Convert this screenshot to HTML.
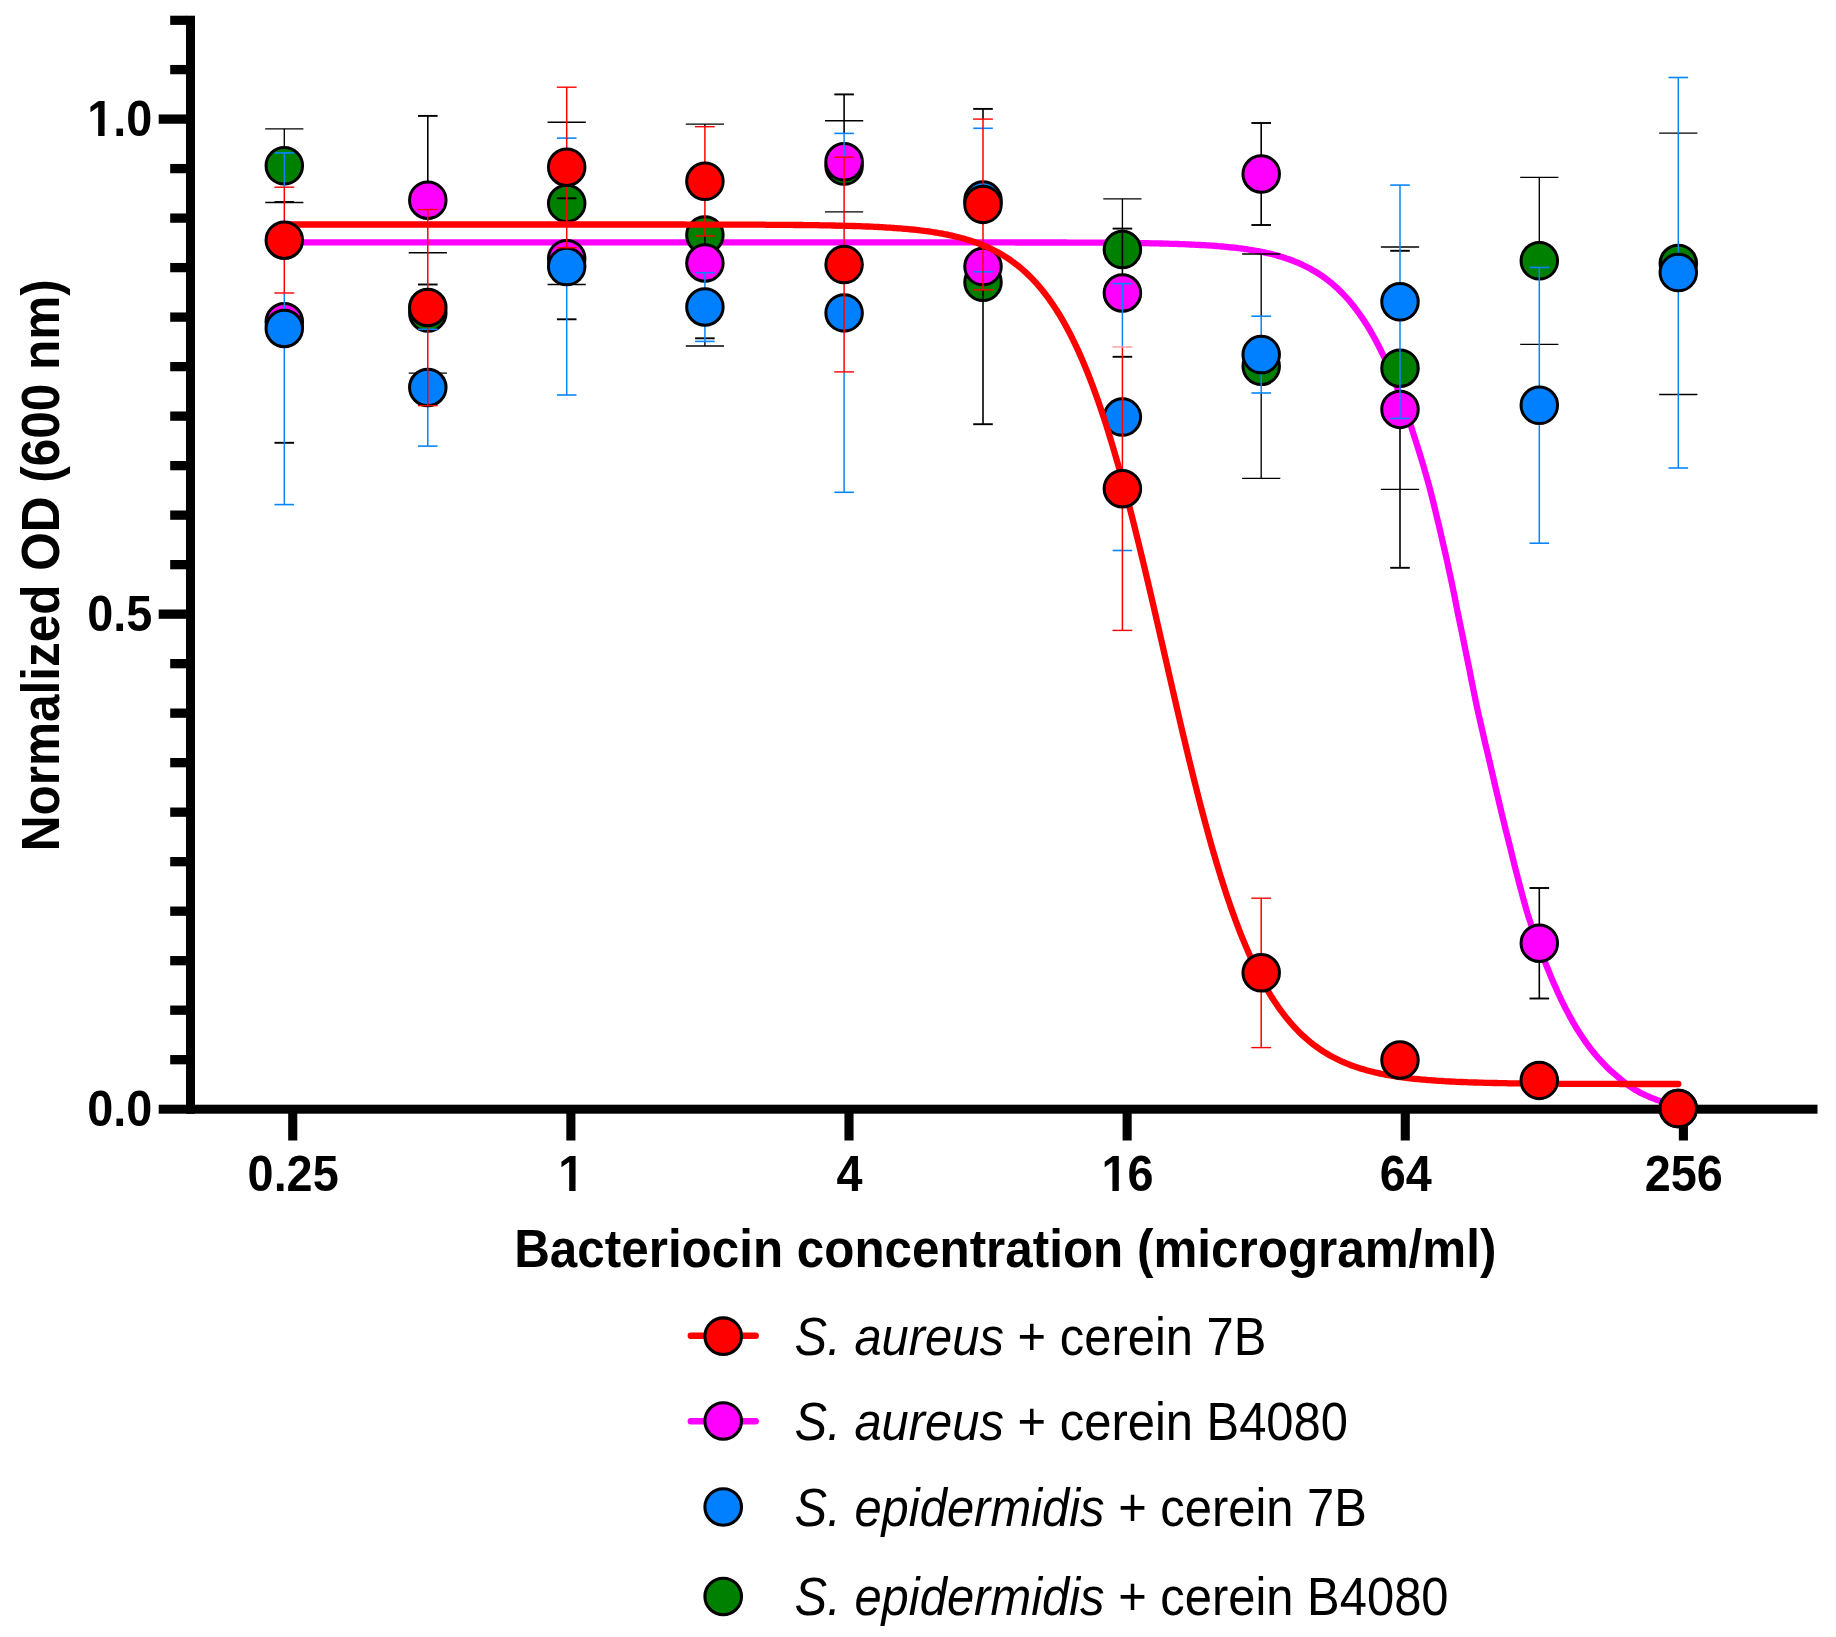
<!DOCTYPE html>
<html lang="en"><head><meta charset="utf-8"><title>Bacteriocin dose response</title>
<style>html,body{margin:0;padding:0;background:#fff}svg{display:block}text{font-family:"Liberation Sans",Arial,Helvetica,sans-serif;fill:#000}</style></head><body>
<svg width="1836" height="1637" viewBox="0 0 1836 1637">
<rect width="1836" height="1637" fill="#fff"/>
<g id="axes" fill="#000">
<rect x="186" y="15.7" width="9" height="1098.1"/>
<rect x="158.7" y="1104.7" width="1658.8" height="9"/>
<rect x="170.2" y="1055.04" width="16.3" height="9.3"/>
<rect x="170.2" y="1005.54" width="16.3" height="9.3"/>
<rect x="170.2" y="956.04" width="16.3" height="9.3"/>
<rect x="170.2" y="906.53" width="16.3" height="9.3"/>
<rect x="170.2" y="857.03" width="16.3" height="9.3"/>
<rect x="170.2" y="807.52" width="16.3" height="9.3"/>
<rect x="170.2" y="758.01" width="16.3" height="9.3"/>
<rect x="170.2" y="708.51" width="16.3" height="9.3"/>
<rect x="170.2" y="659.00" width="16.3" height="9.3"/>
<rect x="158.7" y="609.50" width="27.8" height="9.3"/>
<rect x="170.2" y="560.00" width="16.3" height="9.3"/>
<rect x="170.2" y="510.49" width="16.3" height="9.3"/>
<rect x="170.2" y="460.99" width="16.3" height="9.3"/>
<rect x="170.2" y="411.48" width="16.3" height="9.3"/>
<rect x="170.2" y="361.98" width="16.3" height="9.3"/>
<rect x="170.2" y="312.47" width="16.3" height="9.3"/>
<rect x="170.2" y="262.96" width="16.3" height="9.3"/>
<rect x="170.2" y="213.46" width="16.3" height="9.3"/>
<rect x="170.2" y="163.95" width="16.3" height="9.3"/>
<rect x="158.7" y="114.45" width="27.8" height="9.3"/>
<rect x="170.2" y="64.95" width="16.3" height="9.3"/>
<rect x="170.2" y="15.7" width="16.3" height="9.2"/>
<rect x="288.19" y="1113" width="9.1" height="27.5"/>
<rect x="566.32" y="1113" width="9.1" height="27.5"/>
<rect x="844.45" y="1113" width="9.1" height="27.5"/>
<rect x="1122.58" y="1113" width="9.1" height="27.5"/>
<rect x="1400.71" y="1113" width="9.1" height="27.5"/>
<rect x="1678.84" y="1113" width="9.1" height="27.5"/>
</g>
<path id="fitB" d="M284.3 242.4 L286.3 242.4 L288.3 242.4 L290.3 242.4 L292.3 242.4 L294.3 242.4 L296.3 242.4 L298.3 242.4 L300.3 242.4 L302.3 242.4 L304.3 242.4 L306.3 242.4 L308.3 242.4 L310.3 242.4 L312.3 242.4 L314.3 242.4 L316.3 242.4 L318.3 242.4 L320.3 242.4 L322.3 242.4 L324.3 242.4 L326.3 242.4 L328.3 242.4 L330.3 242.4 L332.3 242.4 L334.3 242.4 L336.3 242.4 L338.3 242.4 L340.3 242.4 L342.3 242.4 L344.3 242.4 L346.3 242.4 L348.3 242.4 L350.3 242.4 L352.3 242.4 L354.3 242.4 L356.3 242.4 L358.3 242.4 L360.3 242.4 L362.3 242.4 L364.3 242.4 L366.3 242.4 L368.3 242.4 L370.3 242.4 L372.3 242.4 L374.3 242.4 L376.3 242.4 L378.3 242.4 L380.3 242.4 L382.3 242.4 L384.3 242.4 L386.3 242.4 L388.3 242.4 L390.3 242.4 L392.3 242.4 L394.3 242.4 L396.3 242.4 L398.3 242.4 L400.3 242.4 L402.3 242.4 L404.3 242.4 L406.3 242.4 L408.3 242.4 L410.3 242.4 L412.3 242.4 L414.3 242.4 L416.3 242.4 L418.3 242.4 L420.3 242.4 L422.3 242.4 L424.3 242.4 L426.3 242.4 L428.3 242.4 L430.3 242.4 L432.3 242.4 L434.3 242.4 L436.3 242.4 L438.3 242.4 L440.3 242.4 L442.3 242.4 L444.3 242.4 L446.3 242.4 L448.3 242.4 L450.3 242.4 L452.3 242.4 L454.3 242.4 L456.3 242.4 L458.3 242.4 L460.3 242.4 L462.3 242.4 L464.3 242.4 L466.3 242.4 L468.3 242.4 L470.3 242.4 L472.3 242.4 L474.3 242.4 L476.3 242.4 L478.3 242.4 L480.3 242.4 L482.3 242.4 L484.3 242.4 L486.3 242.4 L488.3 242.4 L490.3 242.4 L492.3 242.4 L494.3 242.4 L496.3 242.4 L498.3 242.4 L500.3 242.4 L502.3 242.4 L504.3 242.4 L506.3 242.4 L508.3 242.4 L510.3 242.4 L512.3 242.4 L514.3 242.4 L516.3 242.4 L518.3 242.4 L520.3 242.4 L522.3 242.4 L524.3 242.4 L526.3 242.4 L528.3 242.4 L530.3 242.4 L532.3 242.4 L534.3 242.4 L536.3 242.4 L538.3 242.4 L540.3 242.4 L542.3 242.4 L544.3 242.4 L546.3 242.4 L548.3 242.4 L550.3 242.4 L552.3 242.4 L554.3 242.4 L556.3 242.4 L558.3 242.4 L560.3 242.4 L562.3 242.4 L564.3 242.4 L566.3 242.4 L568.3 242.4 L570.3 242.4 L572.3 242.4 L574.3 242.4 L576.3 242.4 L578.3 242.4 L580.3 242.4 L582.3 242.4 L584.3 242.4 L586.3 242.4 L588.3 242.4 L590.3 242.4 L592.3 242.4 L594.3 242.4 L596.3 242.4 L598.3 242.4 L600.3 242.4 L602.3 242.4 L604.3 242.4 L606.3 242.4 L608.3 242.4 L610.3 242.4 L612.3 242.4 L614.3 242.4 L616.3 242.4 L618.3 242.4 L620.3 242.4 L622.3 242.4 L624.3 242.4 L626.3 242.4 L628.3 242.4 L630.3 242.4 L632.3 242.4 L634.3 242.4 L636.3 242.4 L638.3 242.4 L640.3 242.4 L642.3 242.4 L644.3 242.4 L646.3 242.4 L648.3 242.4 L650.3 242.4 L652.3 242.4 L654.3 242.4 L656.3 242.4 L658.3 242.4 L660.3 242.4 L662.3 242.4 L664.3 242.4 L666.3 242.4 L668.3 242.4 L670.3 242.4 L672.3 242.4 L674.3 242.4 L676.3 242.4 L678.3 242.4 L680.3 242.4 L682.3 242.4 L684.3 242.4 L686.3 242.4 L688.3 242.4 L690.3 242.4 L692.3 242.4 L694.3 242.4 L696.3 242.4 L698.3 242.4 L700.3 242.4 L702.3 242.4 L704.3 242.4 L706.3 242.4 L708.3 242.4 L710.3 242.4 L712.3 242.4 L714.3 242.4 L716.3 242.4 L718.3 242.4 L720.3 242.4 L722.3 242.4 L724.3 242.4 L726.3 242.4 L728.3 242.4 L730.3 242.4 L732.3 242.4 L734.3 242.4 L736.3 242.4 L738.3 242.4 L740.3 242.4 L742.3 242.4 L744.3 242.4 L746.3 242.4 L748.3 242.4 L750.3 242.4 L752.3 242.4 L754.3 242.4 L756.3 242.4 L758.3 242.4 L760.3 242.4 L762.3 242.4 L764.3 242.4 L766.3 242.4 L768.3 242.4 L770.3 242.4 L772.3 242.4 L774.3 242.4 L776.3 242.4 L778.3 242.4 L780.3 242.4 L782.3 242.4 L784.3 242.4 L786.3 242.4 L788.3 242.4 L790.3 242.4 L792.3 242.4 L794.3 242.4 L796.3 242.4 L798.3 242.4 L800.3 242.4 L802.3 242.4 L804.3 242.4 L806.3 242.4 L808.3 242.4 L810.3 242.4 L812.3 242.4 L814.3 242.4 L816.3 242.4 L818.3 242.4 L820.3 242.4 L822.3 242.4 L824.3 242.4 L826.3 242.4 L828.3 242.4 L830.3 242.4 L832.3 242.4 L834.3 242.4 L836.3 242.4 L838.3 242.4 L840.3 242.4 L842.3 242.4 L844.3 242.4 L846.3 242.4 L848.3 242.4 L850.3 242.4 L852.3 242.4 L854.3 242.4 L856.3 242.4 L858.3 242.4 L860.3 242.4 L862.3 242.4 L864.3 242.4 L866.3 242.4 L868.3 242.4 L870.3 242.4 L872.3 242.4 L874.3 242.4 L876.3 242.4 L878.3 242.4 L880.3 242.4 L882.3 242.4 L884.3 242.4 L886.3 242.4 L888.3 242.4 L890.3 242.4 L892.3 242.4 L894.3 242.4 L896.3 242.4 L898.3 242.4 L900.3 242.4 L902.3 242.4 L904.3 242.4 L906.3 242.4 L908.3 242.4 L910.3 242.4 L912.3 242.4 L914.3 242.4 L916.3 242.4 L918.3 242.4 L920.3 242.4 L922.3 242.4 L924.3 242.4 L926.3 242.4 L928.3 242.4 L930.3 242.4 L932.3 242.4 L934.3 242.4 L936.3 242.4 L938.3 242.4 L940.3 242.4 L942.3 242.4 L944.3 242.4 L946.3 242.4 L948.3 242.4 L950.3 242.4 L952.3 242.4 L954.3 242.4 L956.3 242.4 L958.3 242.4 L960.3 242.4 L962.3 242.4 L964.3 242.4 L966.3 242.4 L968.3 242.4 L970.3 242.4 L972.3 242.4 L974.3 242.4 L976.3 242.4 L978.3 242.4 L980.3 242.4 L982.3 242.4 L984.3 242.4 L986.3 242.4 L988.3 242.4 L990.3 242.4 L992.3 242.4 L994.3 242.4 L996.3 242.4 L998.3 242.4 L1000.3 242.4 L1002.3 242.4 L1004.3 242.4 L1006.3 242.4 L1008.3 242.4 L1010.3 242.4 L1012.3 242.4 L1014.3 242.4 L1016.3 242.5 L1018.3 242.5 L1020.3 242.5 L1022.3 242.5 L1024.3 242.5 L1026.3 242.5 L1028.3 242.5 L1030.3 242.5 L1032.3 242.5 L1034.3 242.5 L1036.3 242.5 L1038.3 242.5 L1040.3 242.5 L1042.3 242.5 L1044.3 242.5 L1046.3 242.5 L1048.3 242.5 L1050.3 242.5 L1052.3 242.5 L1054.3 242.5 L1056.3 242.5 L1058.3 242.5 L1060.3 242.5 L1062.3 242.5 L1064.3 242.5 L1066.3 242.5 L1068.3 242.6 L1070.3 242.6 L1072.3 242.6 L1074.3 242.6 L1076.3 242.6 L1078.3 242.6 L1080.3 242.6 L1082.3 242.6 L1084.3 242.6 L1086.3 242.6 L1088.3 242.6 L1090.3 242.6 L1092.3 242.7 L1094.3 242.7 L1096.3 242.7 L1098.3 242.7 L1100.3 242.7 L1102.3 242.7 L1104.3 242.7 L1106.3 242.7 L1108.3 242.8 L1110.3 242.8 L1112.3 242.8 L1114.3 242.8 L1116.3 242.8 L1118.3 242.8 L1120.3 242.9 L1122.3 242.9 L1124.3 242.9 L1126.3 242.9 L1128.3 243.0 L1130.3 243.0 L1132.3 243.0 L1134.3 243.0 L1136.3 243.1 L1138.3 243.1 L1140.3 243.1 L1142.3 243.1 L1144.3 243.2 L1146.3 243.2 L1148.3 243.2 L1150.3 243.3 L1152.3 243.3 L1154.3 243.4 L1156.3 243.4 L1158.3 243.4 L1160.3 243.5 L1162.3 243.5 L1164.3 243.6 L1166.3 243.6 L1168.3 243.7 L1170.3 243.8 L1172.3 243.8 L1174.3 243.9 L1176.3 243.9 L1178.3 244.0 L1180.3 244.1 L1182.3 244.1 L1184.3 244.2 L1186.3 244.3 L1188.3 244.4 L1190.3 244.5 L1192.3 244.6 L1194.3 244.7 L1196.3 244.8 L1198.3 244.9 L1200.3 245.0 L1202.3 245.1 L1204.3 245.2 L1206.3 245.3 L1208.3 245.4 L1210.3 245.6 L1212.3 245.7 L1214.3 245.9 L1216.3 246.0 L1218.3 246.2 L1220.3 246.3 L1222.3 246.5 L1224.3 246.7 L1226.3 246.9 L1228.3 247.1 L1230.3 247.3 L1232.3 247.5 L1234.3 247.7 L1236.3 247.9 L1238.3 248.2 L1240.3 248.4 L1242.3 248.7 L1244.3 249.0 L1246.3 249.2 L1248.3 249.5 L1250.3 249.9 L1252.3 250.2 L1254.3 250.5 L1256.3 250.9 L1258.3 251.2 L1260.3 251.6 L1262.3 252.0 L1264.3 252.4 L1266.3 252.9 L1268.3 253.3 L1270.3 253.8 L1272.3 254.3 L1274.3 254.8 L1276.3 255.3 L1278.3 255.9 L1280.3 256.5 L1282.3 257.1 L1284.3 257.7 L1286.3 258.4 L1288.3 259.0 L1290.3 259.8 L1292.3 260.5 L1294.3 261.3 L1296.3 262.1 L1298.3 262.9 L1300.3 263.8 L1302.3 264.7 L1304.3 265.7 L1306.3 266.7 L1308.3 267.7 L1310.3 268.8 L1312.3 269.9 L1314.3 271.0 L1316.3 272.2 L1318.3 273.5 L1320.3 274.8 L1322.3 276.2 L1324.3 277.6 L1326.3 279.1 L1328.3 280.6 L1330.3 282.2 L1332.3 283.9 L1334.3 285.6 L1336.3 287.4 L1338.3 289.2 L1340.3 291.2 L1342.3 293.2 L1344.3 295.3 L1346.3 297.5 L1348.3 299.7 L1350.3 302.0 L1352.3 304.5 L1354.3 307.0 L1356.3 309.6 L1358.3 312.3 L1360.3 315.1 L1362.3 318.0 L1364.3 321.0 L1366.3 324.1 L1368.3 327.4 L1370.3 330.7 L1372.3 334.2 L1374.3 337.7 L1376.3 341.4 L1378.3 345.3 L1380.3 349.2 L1382.3 353.3 L1384.3 357.5 L1386.3 361.9 L1388.3 366.3 L1390.3 371.0 L1392.3 375.7 L1394.3 380.6 L1396.3 385.7 L1398.4 390.9 L1400.4 396.3 L1402.5 401.8 L1404.5 407.4 L1406.6 413.2 L1408.6 419.2 L1410.7 425.3 L1412.7 431.6 L1414.8 438.0 L1416.9 444.6 L1419.0 451.3 L1421.1 458.2 L1423.2 465.2 L1425.3 472.4 L1427.4 479.7 L1429.5 487.2 L1431.4 494.8 L1433.4 502.6 L1435.3 510.4 L1437.2 518.5 L1439.2 526.6 L1441.1 534.9 L1443.0 543.3 L1445.0 551.8 L1446.9 560.4 L1448.8 569.1 L1450.7 577.9 L1452.6 586.8 L1454.4 595.7 L1456.2 604.8 L1458.0 613.9 L1459.9 623.0 L1461.8 632.2 L1463.7 641.5 L1465.6 650.8 L1467.5 660.1 L1469.4 669.4 L1471.2 678.8 L1473.1 688.1 L1475.0 697.5 L1476.9 706.8 L1479.0 716.1 L1481.1 725.3 L1483.2 734.5 L1485.3 743.7 L1487.5 752.8 L1489.6 761.8 L1491.7 770.8 L1493.8 779.7 L1495.8 788.5 L1497.9 797.2 L1499.9 805.8 L1501.9 814.3 L1504.0 822.7 L1506.0 830.9 L1508.1 839.1 L1510.1 847.1 L1512.0 855.0 L1513.9 862.7 L1515.8 870.3 L1517.8 877.8 L1519.7 885.1 L1521.6 892.3 L1523.5 899.3 L1525.4 906.2 L1527.3 912.9 L1529.4 919.5 L1531.6 925.9 L1533.8 932.2 L1536.0 938.3 L1538.2 944.2 L1540.3 950.0 L1542.5 955.7 L1544.7 961.2 L1546.8 966.5 L1549.0 971.7 L1551.0 976.8 L1553.1 981.7 L1555.2 986.4 L1557.2 991.0 L1559.3 995.5 L1561.3 999.9 L1563.4 1004.1 L1565.4 1008.2 L1567.5 1012.1 L1569.5 1015.9 L1571.6 1019.6 L1573.6 1023.2 L1575.6 1026.6 L1577.7 1030.0 L1579.7 1033.2 L1581.8 1036.3 L1583.8 1039.3 L1585.8 1042.2 L1587.8 1045.0 L1589.9 1047.7 L1591.9 1050.3 L1593.9 1052.8 L1595.9 1055.3 L1597.9 1057.6 L1600.0 1059.8 L1602.0 1062.0 L1604.0 1064.1 L1606.0 1066.2 L1608.0 1068.2 L1610.0 1070.1 L1612.1 1072.0 L1614.1 1073.7 L1616.1 1075.4 L1618.1 1077.1 L1619.9 1078.7 L1621.7 1080.2 L1623.5 1081.7 L1625.3 1083.1 L1627.2 1084.4 L1629.0 1085.8 L1630.8 1087.0 L1632.7 1088.2 L1634.5 1089.4 L1636.4 1090.5 L1638.3 1091.6 L1640.3 1092.7 L1642.3 1093.7 L1644.3 1094.6 L1646.3 1095.5 L1648.3 1096.4 L1650.3 1097.3 L1652.3 1098.1 L1654.3 1098.9 L1656.3 1099.7 L1658.3 1100.4 L1660.3 1101.1 L1662.3 1101.8 L1664.3 1102.4 L1666.3 1102.9 L1668.3 1103.5 L1670.3 1104.0 L1672.3 1104.5 L1674.3 1105.0 L1676.3 1105.5 L1678.3 1106.0" fill="none" stroke="#ff00ff" stroke-width="6.3" stroke-linecap="round" stroke-linejoin="round"/>
<g id="sepi_b4080">
<path d="M284.3 128.8 V152.9" stroke="#000" stroke-width="1.35" fill="none"/>
<path d="M265.2 128.8 H303.4" stroke="#000" stroke-width="1.35" fill="none"/>
<path d="M265.2 202.5 H303.4" stroke="#000" stroke-width="1.35" fill="none"/>
<path d="M408.7 252.7 H446.9" stroke="#000" stroke-width="1.35" fill="none"/>
<path d="M408.7 373.1 H446.9" stroke="#000" stroke-width="1.35" fill="none"/>
<path d="M547.6 122.2 H585.8" stroke="#000" stroke-width="1.35" fill="none"/>
<path d="M547.6 284.5 H585.8" stroke="#000" stroke-width="1.35" fill="none"/>
<path d="M704.9 124.1 V126.7" stroke="#000" stroke-width="1.35" fill="none"/>
<path d="M704.9 341.4 V346.0" stroke="#000" stroke-width="1.35" fill="none"/>
<path d="M685.8 124.1 H724.0" stroke="#000" stroke-width="1.35" fill="none"/>
<path d="M685.8 346.0 H724.0" stroke="#000" stroke-width="1.35" fill="none"/>
<path d="M825.0 120.7 H863.2" stroke="#000" stroke-width="1.35" fill="none"/>
<path d="M825.0 211.8 H863.2" stroke="#000" stroke-width="1.35" fill="none"/>
<path d="M1122.4 198.9 V228.6" stroke="#000" stroke-width="1.35" fill="none"/>
<path d="M1103.3 198.9 H1141.5" stroke="#000" stroke-width="1.35" fill="none"/>
<path d="M1103.3 297.0 H1141.5" stroke="#000" stroke-width="1.35" fill="none"/>
<path d="M1261.2 254.0 V316.2" stroke="#000" stroke-width="1.35" fill="none"/>
<path d="M1261.2 393.0 V478.4" stroke="#000" stroke-width="1.35" fill="none"/>
<path d="M1242.1 254.0 H1280.3" stroke="#000" stroke-width="1.35" fill="none"/>
<path d="M1242.1 478.4 H1280.3" stroke="#000" stroke-width="1.35" fill="none"/>
<path d="M1380.9 247.0 H1419.1" stroke="#000" stroke-width="1.35" fill="none"/>
<path d="M1380.9 489.3 H1419.1" stroke="#000" stroke-width="1.35" fill="none"/>
<path d="M1539.3 177.4 V267.5" stroke="#000" stroke-width="1.35" fill="none"/>
<path d="M1520.2 177.4 H1558.4" stroke="#000" stroke-width="1.35" fill="none"/>
<path d="M1520.2 344.4 H1558.4" stroke="#000" stroke-width="1.35" fill="none"/>
<path d="M1659.2 133.1 H1697.4" stroke="#000" stroke-width="1.35" fill="none"/>
<path d="M1659.2 394.5 H1697.4" stroke="#000" stroke-width="1.35" fill="none"/>
<circle cx="284.3" cy="165.8" r="18.25" fill="#008000" stroke="#000" stroke-width="3.0"/>
<circle cx="427.8" cy="313.1" r="18.25" fill="#008000" stroke="#000" stroke-width="3.0"/>
<circle cx="566.7" cy="203.4" r="18.25" fill="#008000" stroke="#000" stroke-width="3.0"/>
<circle cx="704.9" cy="235.1" r="18.25" fill="#008000" stroke="#000" stroke-width="3.0"/>
<circle cx="844.1" cy="166.1" r="18.25" fill="#008000" stroke="#000" stroke-width="3.0"/>
<circle cx="983.0" cy="282.3" r="18.25" fill="#008000" stroke="#000" stroke-width="3.0"/>
<circle cx="1122.4" cy="249.6" r="18.25" fill="#008000" stroke="#000" stroke-width="3.0"/>
<circle cx="1261.2" cy="366.3" r="18.25" fill="#008000" stroke="#000" stroke-width="3.0"/>
<circle cx="1400.0" cy="368.2" r="18.25" fill="#008000" stroke="#000" stroke-width="3.0"/>
<circle cx="1539.3" cy="260.8" r="18.25" fill="#008000" stroke="#000" stroke-width="3.0"/>
<circle cx="1678.3" cy="263.5" r="18.25" fill="#008000" stroke="#000" stroke-width="3.0"/>
</g>
<g id="saur_b4080">
<path d="M274.5 202.0 H294.1" stroke="#000" stroke-width="1.90" fill="none"/>
<path d="M274.5 442.8 H294.1" stroke="#000" stroke-width="1.90" fill="none"/>
<path d="M427.8 115.9 V209.6" stroke="#000" stroke-width="1.60" fill="none"/>
<path d="M418.0 115.9 H437.6" stroke="#000" stroke-width="1.90" fill="none"/>
<path d="M418.0 284.5 H437.6" stroke="#000" stroke-width="1.90" fill="none"/>
<path d="M556.9 198.3 H576.5" stroke="#000" stroke-width="1.90" fill="none"/>
<path d="M556.9 319.3 H576.5" stroke="#000" stroke-width="1.90" fill="none"/>
<path d="M704.9 236.0 V272.7" stroke="#000" stroke-width="1.60" fill="none"/>
<path d="M695.1 187.6 H714.7" stroke="#000" stroke-width="1.90" fill="none"/>
<path d="M695.1 338.3 H714.7" stroke="#000" stroke-width="1.90" fill="none"/>
<path d="M844.1 94.4 V133.4" stroke="#000" stroke-width="1.60" fill="none"/>
<path d="M834.3 94.4 H853.9" stroke="#000" stroke-width="1.90" fill="none"/>
<path d="M834.3 227.4 H853.9" stroke="#000" stroke-width="1.90" fill="none"/>
<path d="M983.0 108.9 V119.1" stroke="#000" stroke-width="1.60" fill="none"/>
<path d="M983.0 289.9 V424.2" stroke="#000" stroke-width="1.60" fill="none"/>
<path d="M973.2 108.9 H992.8" stroke="#000" stroke-width="1.90" fill="none"/>
<path d="M973.2 424.2 H992.8" stroke="#000" stroke-width="1.90" fill="none"/>
<path d="M1122.4 228.6 V283.6" stroke="#000" stroke-width="1.60" fill="none"/>
<path d="M1112.6 228.6 H1132.2" stroke="#000" stroke-width="1.90" fill="none"/>
<path d="M1112.6 356.8 H1132.2" stroke="#000" stroke-width="1.90" fill="none"/>
<path d="M1261.2 123.0 V225.0" stroke="#000" stroke-width="1.60" fill="none"/>
<path d="M1251.4 123.0 H1271.0" stroke="#000" stroke-width="1.90" fill="none"/>
<path d="M1251.4 225.0 H1271.0" stroke="#000" stroke-width="1.90" fill="none"/>
<path d="M1400.0 418.4 V567.8" stroke="#000" stroke-width="1.60" fill="none"/>
<path d="M1390.2 250.8 H1409.8" stroke="#000" stroke-width="1.90" fill="none"/>
<path d="M1390.2 567.8 H1409.8" stroke="#000" stroke-width="1.90" fill="none"/>
<path d="M1539.3 888.0 V998.5" stroke="#000" stroke-width="1.60" fill="none"/>
<path d="M1529.5 888.0 H1549.1" stroke="#000" stroke-width="1.90" fill="none"/>
<path d="M1529.5 998.5 H1549.1" stroke="#000" stroke-width="1.90" fill="none"/>
<circle cx="284.3" cy="321.8" r="18.25" fill="#ff00ff" stroke="#000" stroke-width="3.0"/>
<circle cx="427.8" cy="200.2" r="18.25" fill="#ff00ff" stroke="#000" stroke-width="3.0"/>
<circle cx="566.7" cy="258.7" r="18.25" fill="#ff00ff" stroke="#000" stroke-width="3.0"/>
<circle cx="704.9" cy="263.0" r="18.25" fill="#ff00ff" stroke="#000" stroke-width="3.0"/>
<circle cx="844.1" cy="161.8" r="18.25" fill="#ff00ff" stroke="#000" stroke-width="3.0"/>
<circle cx="983.0" cy="266.6" r="18.25" fill="#ff00ff" stroke="#000" stroke-width="3.0"/>
<circle cx="1122.4" cy="293.0" r="18.25" fill="#ff00ff" stroke="#000" stroke-width="3.0"/>
<circle cx="1261.2" cy="174.0" r="18.25" fill="#ff00ff" stroke="#000" stroke-width="3.0"/>
<circle cx="1400.0" cy="409.4" r="18.25" fill="#ff00ff" stroke="#000" stroke-width="3.0"/>
<circle cx="1539.3" cy="943.2" r="18.25" fill="#ff00ff" stroke="#000" stroke-width="3.0"/>
<circle cx="1678.3" cy="1108.6" r="18.25" fill="#ff00ff" stroke="#000" stroke-width="3.0"/>
</g>
<g id="sepi_7b">
<path d="M284.3 152.9 V187.2" stroke="#0686fa" stroke-width="1.50" fill="none"/>
<path d="M284.3 293.0 V504.6" stroke="#0686fa" stroke-width="1.50" fill="none"/>
<path d="M274.5 152.9 H294.1" stroke="#0686fa" stroke-width="1.60" fill="none"/>
<path d="M274.5 504.6 H294.1" stroke="#0686fa" stroke-width="1.60" fill="none"/>
<path d="M427.8 405.6 V446.1" stroke="#0686fa" stroke-width="1.50" fill="none"/>
<path d="M418.0 329.3 H437.6" stroke="#0686fa" stroke-width="1.60" fill="none"/>
<path d="M418.0 446.1 H437.6" stroke="#0686fa" stroke-width="1.60" fill="none"/>
<path d="M566.7 247.7 V395.0" stroke="#0686fa" stroke-width="1.50" fill="none"/>
<path d="M556.9 138.1 H576.5" stroke="#0686fa" stroke-width="1.60" fill="none"/>
<path d="M556.9 395.0 H576.5" stroke="#0686fa" stroke-width="1.60" fill="none"/>
<path d="M704.9 272.7 V341.4" stroke="#0686fa" stroke-width="1.50" fill="none"/>
<path d="M695.1 272.7 H714.7" stroke="#0686fa" stroke-width="1.60" fill="none"/>
<path d="M695.1 341.4 H714.7" stroke="#0686fa" stroke-width="1.60" fill="none"/>
<path d="M844.1 133.4 V157.2" stroke="#0686fa" stroke-width="1.50" fill="none"/>
<path d="M844.1 371.9 V492.3" stroke="#0686fa" stroke-width="1.50" fill="none"/>
<path d="M834.3 133.4 H853.9" stroke="#0686fa" stroke-width="1.60" fill="none"/>
<path d="M834.3 492.3 H853.9" stroke="#0686fa" stroke-width="1.60" fill="none"/>
<path d="M973.2 128.3 H992.8" stroke="#0686fa" stroke-width="1.60" fill="none"/>
<path d="M973.2 271.8 H992.8" stroke="#0686fa" stroke-width="1.60" fill="none"/>
<path d="M1122.4 283.6 V347.0" stroke="#0686fa" stroke-width="1.50" fill="none"/>
<path d="M1112.6 283.6 H1132.2" stroke="#0686fa" stroke-width="1.60" fill="none"/>
<path d="M1112.6 550.5 H1132.2" stroke="#0686fa" stroke-width="1.60" fill="none"/>
<path d="M1261.2 316.2 V393.0" stroke="#0686fa" stroke-width="1.50" fill="none"/>
<path d="M1251.4 316.2 H1271.0" stroke="#0686fa" stroke-width="1.60" fill="none"/>
<path d="M1251.4 393.0 H1271.0" stroke="#0686fa" stroke-width="1.60" fill="none"/>
<path d="M1400.0 185.1 V418.4" stroke="#0686fa" stroke-width="1.50" fill="none"/>
<path d="M1390.2 185.1 H1409.8" stroke="#0686fa" stroke-width="1.60" fill="none"/>
<path d="M1390.2 418.4 H1409.8" stroke="#0686fa" stroke-width="1.60" fill="none"/>
<path d="M1539.3 267.5 V543.2" stroke="#0686fa" stroke-width="1.50" fill="none"/>
<path d="M1529.5 267.5 H1549.1" stroke="#0686fa" stroke-width="1.60" fill="none"/>
<path d="M1529.5 543.2 H1549.1" stroke="#0686fa" stroke-width="1.60" fill="none"/>
<path d="M1678.3 77.5 V468.0" stroke="#0686fa" stroke-width="1.50" fill="none"/>
<path d="M1668.5 77.5 H1688.1" stroke="#0686fa" stroke-width="1.60" fill="none"/>
<path d="M1668.5 468.0 H1688.1" stroke="#0686fa" stroke-width="1.60" fill="none"/>
<circle cx="284.3" cy="328.5" r="18.25" fill="#0080ff" stroke="#000" stroke-width="3.0"/>
<circle cx="427.8" cy="387.5" r="18.25" fill="#0080ff" stroke="#000" stroke-width="3.0"/>
<circle cx="566.7" cy="266.6" r="18.25" fill="#0080ff" stroke="#000" stroke-width="3.0"/>
<circle cx="704.9" cy="307.0" r="18.25" fill="#0080ff" stroke="#000" stroke-width="3.0"/>
<circle cx="844.1" cy="312.9" r="18.25" fill="#0080ff" stroke="#000" stroke-width="3.0"/>
<circle cx="983.0" cy="200.1" r="18.25" fill="#0080ff" stroke="#000" stroke-width="3.0"/>
<circle cx="1122.4" cy="417.1" r="18.25" fill="#0080ff" stroke="#000" stroke-width="3.0"/>
<circle cx="1261.2" cy="354.6" r="18.25" fill="#0080ff" stroke="#000" stroke-width="3.0"/>
<circle cx="1400.0" cy="301.8" r="18.25" fill="#0080ff" stroke="#000" stroke-width="3.0"/>
<circle cx="1539.3" cy="405.3" r="18.25" fill="#0080ff" stroke="#000" stroke-width="3.0"/>
<circle cx="1678.3" cy="272.6" r="18.25" fill="#0080ff" stroke="#000" stroke-width="3.0"/>
</g>
<path id="fitA" d="M284.3 224.5 L286.3 224.5 L288.3 224.5 L290.3 224.5 L292.3 224.5 L294.3 224.5 L296.3 224.5 L298.3 224.5 L300.3 224.5 L302.3 224.5 L304.3 224.5 L306.3 224.5 L308.3 224.5 L310.3 224.5 L312.3 224.5 L314.3 224.5 L316.3 224.5 L318.3 224.5 L320.3 224.5 L322.3 224.5 L324.3 224.5 L326.3 224.5 L328.3 224.5 L330.3 224.5 L332.3 224.5 L334.3 224.5 L336.3 224.5 L338.3 224.5 L340.3 224.5 L342.3 224.5 L344.3 224.5 L346.3 224.5 L348.3 224.5 L350.3 224.5 L352.3 224.5 L354.3 224.5 L356.3 224.5 L358.3 224.5 L360.3 224.5 L362.3 224.5 L364.3 224.5 L366.3 224.5 L368.3 224.5 L370.3 224.5 L372.3 224.5 L374.3 224.5 L376.3 224.5 L378.3 224.5 L380.3 224.5 L382.3 224.5 L384.3 224.5 L386.3 224.5 L388.3 224.5 L390.3 224.5 L392.3 224.5 L394.3 224.5 L396.3 224.5 L398.3 224.5 L400.3 224.5 L402.3 224.5 L404.3 224.5 L406.3 224.5 L408.3 224.5 L410.3 224.5 L412.3 224.5 L414.3 224.5 L416.3 224.5 L418.3 224.5 L420.3 224.5 L422.3 224.5 L424.3 224.5 L426.3 224.5 L428.3 224.5 L430.3 224.5 L432.3 224.5 L434.3 224.5 L436.3 224.5 L438.3 224.5 L440.3 224.5 L442.3 224.5 L444.3 224.5 L446.3 224.5 L448.3 224.5 L450.3 224.5 L452.3 224.5 L454.3 224.5 L456.3 224.5 L458.3 224.5 L460.3 224.5 L462.3 224.5 L464.3 224.5 L466.3 224.5 L468.3 224.5 L470.3 224.5 L472.3 224.5 L474.3 224.5 L476.3 224.5 L478.3 224.5 L480.3 224.5 L482.3 224.5 L484.3 224.5 L486.3 224.5 L488.3 224.5 L490.3 224.5 L492.3 224.5 L494.3 224.5 L496.3 224.5 L498.3 224.5 L500.3 224.5 L502.3 224.5 L504.3 224.5 L506.3 224.5 L508.3 224.5 L510.3 224.5 L512.3 224.5 L514.3 224.5 L516.3 224.5 L518.3 224.5 L520.3 224.5 L522.3 224.5 L524.3 224.5 L526.3 224.5 L528.3 224.5 L530.3 224.5 L532.3 224.5 L534.3 224.5 L536.3 224.5 L538.3 224.5 L540.3 224.5 L542.3 224.5 L544.3 224.5 L546.3 224.5 L548.3 224.5 L550.3 224.5 L552.3 224.5 L554.3 224.5 L556.3 224.5 L558.3 224.5 L560.3 224.5 L562.3 224.5 L564.3 224.5 L566.3 224.5 L568.3 224.5 L570.3 224.5 L572.3 224.5 L574.3 224.5 L576.3 224.5 L578.3 224.5 L580.3 224.5 L582.3 224.5 L584.3 224.5 L586.3 224.5 L588.3 224.5 L590.3 224.5 L592.3 224.5 L594.3 224.5 L596.3 224.5 L598.3 224.5 L600.3 224.5 L602.3 224.5 L604.3 224.5 L606.3 224.5 L608.3 224.5 L610.3 224.5 L612.3 224.5 L614.3 224.5 L616.3 224.5 L618.3 224.5 L620.3 224.5 L622.3 224.5 L624.3 224.5 L626.3 224.5 L628.3 224.5 L630.3 224.5 L632.3 224.5 L634.3 224.5 L636.3 224.5 L638.3 224.5 L640.3 224.5 L642.3 224.5 L644.3 224.5 L646.3 224.5 L648.3 224.5 L650.3 224.5 L652.3 224.5 L654.3 224.5 L656.3 224.5 L658.3 224.5 L660.3 224.5 L662.3 224.5 L664.3 224.5 L666.3 224.5 L668.3 224.5 L670.3 224.5 L672.3 224.5 L674.3 224.5 L676.3 224.5 L678.3 224.5 L680.3 224.5 L682.3 224.5 L684.3 224.5 L686.3 224.6 L688.3 224.6 L690.3 224.6 L692.3 224.6 L694.3 224.6 L696.3 224.6 L698.3 224.6 L700.3 224.6 L702.3 224.6 L704.3 224.6 L706.3 224.6 L708.3 224.6 L710.3 224.6 L712.3 224.6 L714.3 224.6 L716.3 224.6 L718.3 224.6 L720.3 224.6 L722.3 224.6 L724.3 224.6 L726.3 224.6 L728.3 224.6 L730.3 224.6 L732.3 224.6 L734.3 224.6 L736.3 224.6 L738.3 224.6 L740.3 224.7 L742.3 224.7 L744.3 224.7 L746.3 224.7 L748.3 224.7 L750.3 224.7 L752.3 224.7 L754.3 224.7 L756.3 224.7 L758.3 224.7 L760.3 224.7 L762.3 224.7 L764.3 224.7 L766.3 224.8 L768.3 224.8 L770.3 224.8 L772.3 224.8 L774.3 224.8 L776.3 224.8 L778.3 224.8 L780.3 224.8 L782.3 224.9 L784.3 224.9 L786.3 224.9 L788.3 224.9 L790.3 224.9 L792.3 224.9 L794.3 225.0 L796.3 225.0 L798.3 225.0 L800.3 225.0 L802.3 225.0 L804.3 225.1 L806.3 225.1 L808.3 225.1 L810.3 225.1 L812.3 225.2 L814.3 225.2 L816.3 225.2 L818.3 225.2 L820.3 225.3 L822.3 225.3 L824.3 225.3 L826.3 225.4 L828.3 225.4 L830.3 225.4 L832.3 225.5 L834.3 225.5 L836.3 225.6 L838.3 225.6 L840.3 225.7 L842.3 225.7 L844.3 225.8 L846.3 225.8 L848.3 225.9 L850.3 225.9 L852.3 226.0 L854.3 226.0 L856.3 226.1 L858.3 226.2 L860.3 226.2 L862.3 226.3 L864.3 226.4 L866.3 226.5 L868.3 226.5 L870.3 226.6 L872.3 226.7 L874.3 226.8 L876.3 226.9 L878.3 227.0 L880.3 227.1 L882.3 227.2 L884.3 227.3 L886.3 227.5 L888.3 227.6 L890.3 227.7 L892.3 227.8 L894.3 228.0 L896.3 228.1 L898.3 228.3 L900.3 228.4 L902.3 228.6 L904.3 228.8 L906.3 228.9 L908.3 229.1 L910.3 229.3 L912.3 229.5 L914.3 229.7 L916.3 229.9 L918.3 230.1 L920.3 230.4 L922.3 230.6 L924.3 230.9 L926.3 231.1 L928.3 231.4 L930.3 231.7 L932.3 232.0 L934.3 232.3 L936.3 232.6 L938.3 233.0 L940.3 233.3 L942.3 233.7 L944.3 234.1 L946.3 234.4 L948.3 234.9 L950.3 235.3 L952.3 235.7 L954.3 236.2 L956.3 236.7 L958.3 237.2 L960.3 237.7 L962.3 238.2 L964.3 238.8 L966.3 239.4 L968.3 240.0 L970.3 240.6 L972.3 241.3 L974.3 241.9 L976.3 242.7 L978.3 243.4 L980.3 244.2 L982.3 245.0 L984.3 245.8 L986.3 246.6 L988.3 247.5 L990.3 248.5 L992.3 249.4 L994.3 250.5 L996.3 251.5 L998.3 252.6 L1000.3 253.7 L1002.3 254.9 L1004.3 256.1 L1006.3 257.4 L1008.3 258.7 L1010.3 260.0 L1012.3 261.5 L1014.3 262.9 L1016.3 264.4 L1018.3 266.0 L1020.3 267.7 L1022.3 269.4 L1024.3 271.1 L1026.3 273.0 L1028.3 274.9 L1030.3 276.8 L1032.3 278.9 L1034.3 281.0 L1036.3 283.2 L1038.3 285.4 L1040.3 287.8 L1042.3 290.2 L1044.3 292.7 L1046.3 295.3 L1048.3 298.0 L1050.3 300.8 L1052.3 303.7 L1054.3 306.7 L1056.3 309.8 L1058.3 313.0 L1060.3 316.2 L1062.3 319.6 L1064.3 323.1 L1066.3 326.8 L1068.3 330.5 L1070.3 334.3 L1072.3 338.3 L1074.3 342.4 L1076.3 346.6 L1078.3 350.9 L1080.3 355.4 L1082.3 360.0 L1084.3 364.7 L1086.3 369.5 L1088.3 374.5 L1090.3 379.6 L1092.3 384.9 L1094.3 390.3 L1096.3 395.8 L1098.3 401.4 L1100.3 407.2 L1102.3 413.2 L1104.3 419.2 L1106.3 425.4 L1108.3 431.8 L1110.3 438.3 L1112.3 444.9 L1114.3 451.6 L1116.3 458.5 L1118.3 465.5 L1120.3 472.6 L1122.3 479.9 L1124.3 487.3 L1126.3 494.8 L1128.3 502.4 L1130.3 510.1 L1132.3 517.9 L1134.3 525.8 L1136.3 533.9 L1138.3 542.0 L1140.3 550.2 L1142.3 558.5 L1144.3 566.8 L1146.3 575.3 L1148.3 583.7 L1150.3 592.3 L1152.3 600.9 L1154.3 609.5 L1156.3 618.2 L1158.3 626.9 L1160.3 635.7 L1162.3 644.4 L1164.3 653.2 L1166.3 661.9 L1168.3 670.7 L1170.3 679.4 L1172.3 688.1 L1174.3 696.8 L1176.3 705.5 L1178.3 714.1 L1180.3 722.6 L1182.3 731.2 L1184.3 739.6 L1186.3 748.0 L1188.3 756.3 L1190.3 764.5 L1192.3 772.6 L1194.3 780.7 L1196.3 788.6 L1198.3 796.5 L1200.3 804.2 L1202.3 811.9 L1204.3 819.4 L1206.3 826.8 L1208.3 834.1 L1210.3 841.3 L1212.3 848.3 L1214.3 855.2 L1216.3 862.0 L1218.3 868.6 L1220.3 875.1 L1222.3 881.5 L1224.3 887.8 L1226.3 893.9 L1228.3 899.8 L1230.3 905.7 L1232.3 911.4 L1234.3 916.9 L1236.3 922.3 L1238.3 927.6 L1240.3 932.8 L1242.3 937.8 L1244.3 942.6 L1246.3 947.4 L1248.3 952.0 L1250.3 956.5 L1252.3 960.9 L1254.3 965.1 L1256.3 969.2 L1258.3 973.2 L1260.3 977.1 L1262.3 980.9 L1264.3 984.5 L1266.3 988.0 L1268.3 991.4 L1270.3 994.8 L1272.3 998.0 L1274.3 1001.1 L1276.3 1004.1 L1278.3 1007.0 L1280.3 1009.8 L1282.3 1012.5 L1284.3 1015.1 L1286.3 1017.7 L1288.3 1020.1 L1290.3 1022.5 L1292.3 1024.8 L1294.3 1027.0 L1296.3 1029.1 L1298.3 1031.2 L1300.3 1033.2 L1302.3 1035.1 L1304.3 1036.9 L1306.3 1038.7 L1308.3 1040.4 L1310.3 1042.1 L1312.3 1043.7 L1314.3 1045.2 L1316.3 1046.7 L1318.3 1048.1 L1320.3 1049.5 L1322.3 1050.8 L1324.3 1052.1 L1326.3 1053.3 L1328.3 1054.5 L1330.3 1055.7 L1332.3 1056.8 L1334.3 1057.8 L1336.3 1058.8 L1338.3 1059.8 L1340.3 1060.8 L1342.3 1061.7 L1344.3 1062.5 L1346.3 1063.4 L1348.3 1064.2 L1350.3 1065.0 L1352.3 1065.7 L1354.3 1066.4 L1356.3 1067.1 L1358.3 1067.8 L1360.3 1068.4 L1362.3 1069.0 L1364.3 1069.6 L1366.3 1070.2 L1368.3 1070.7 L1370.3 1071.2 L1372.3 1071.7 L1374.3 1072.2 L1376.3 1072.7 L1378.3 1073.1 L1380.3 1073.6 L1382.3 1074.0 L1384.3 1074.4 L1386.3 1074.8 L1388.3 1075.1 L1390.3 1075.5 L1392.3 1075.8 L1394.3 1076.1 L1396.3 1076.5 L1398.3 1076.8 L1400.3 1077.0 L1402.3 1077.3 L1404.3 1077.6 L1406.3 1077.8 L1408.3 1078.1 L1410.3 1078.3 L1412.3 1078.6 L1414.3 1078.8 L1416.3 1079.0 L1418.3 1079.2 L1420.3 1079.4 L1422.3 1079.6 L1424.3 1079.7 L1426.3 1079.9 L1428.3 1080.1 L1430.3 1080.2 L1432.3 1080.4 L1434.3 1080.5 L1436.3 1080.7 L1438.3 1080.8 L1440.3 1080.9 L1442.3 1081.0 L1444.3 1081.2 L1446.3 1081.3 L1448.3 1081.4 L1450.3 1081.5 L1452.3 1081.6 L1454.3 1081.7 L1456.3 1081.8 L1458.3 1081.9 L1460.3 1082.0 L1462.3 1082.0 L1464.3 1082.1 L1466.3 1082.2 L1468.3 1082.3 L1470.3 1082.3 L1472.3 1082.4 L1474.3 1082.5 L1476.3 1082.5 L1478.3 1082.6 L1480.3 1082.7 L1482.3 1082.7 L1484.3 1082.8 L1486.3 1082.8 L1488.3 1082.9 L1490.3 1082.9 L1492.3 1083.0 L1494.3 1083.0 L1496.3 1083.0 L1498.3 1083.1 L1500.3 1083.1 L1502.3 1083.1 L1504.3 1083.2 L1506.3 1083.2 L1508.3 1083.3 L1510.3 1083.3 L1512.3 1083.3 L1514.3 1083.3 L1516.3 1083.4 L1518.3 1083.4 L1520.3 1083.4 L1522.3 1083.4 L1524.3 1083.5 L1526.3 1083.5 L1528.3 1083.5 L1530.3 1083.5 L1532.3 1083.6 L1534.3 1083.6 L1536.3 1083.6 L1538.3 1083.6 L1540.3 1083.6 L1542.3 1083.6 L1544.3 1083.7 L1546.3 1083.7 L1548.3 1083.7 L1550.3 1083.7 L1552.3 1083.7 L1554.3 1083.7 L1556.3 1083.7 L1558.3 1083.7 L1560.3 1083.8 L1562.3 1083.8 L1564.3 1083.8 L1566.3 1083.8 L1568.3 1083.8 L1570.3 1083.8 L1572.3 1083.8 L1574.3 1083.8 L1576.3 1083.8 L1578.3 1083.8 L1580.3 1083.9 L1582.3 1083.9 L1584.3 1083.9 L1586.3 1083.9 L1588.3 1083.9 L1590.3 1083.9 L1592.3 1083.9 L1594.3 1083.9 L1596.3 1083.9 L1598.3 1083.9 L1600.3 1083.9 L1602.3 1083.9 L1604.3 1083.9 L1606.3 1083.9 L1608.3 1083.9 L1610.3 1083.9 L1612.3 1083.9 L1614.3 1083.9 L1616.3 1083.9 L1618.3 1083.9 L1620.3 1084.0 L1622.3 1084.0 L1624.3 1084.0 L1626.3 1084.0 L1628.3 1084.0 L1630.3 1084.0 L1632.3 1084.0 L1634.3 1084.0 L1636.3 1084.0 L1638.3 1084.0 L1640.3 1084.0 L1642.3 1084.0 L1644.3 1084.0 L1646.3 1084.0 L1648.3 1084.0 L1650.3 1084.0 L1652.3 1084.0 L1654.3 1084.0 L1656.3 1084.0 L1658.3 1084.0 L1660.3 1084.0 L1662.3 1084.0 L1664.3 1084.0 L1666.3 1084.0 L1668.3 1084.0 L1670.3 1084.0 L1672.3 1084.0 L1674.3 1084.0 L1676.3 1084.0 L1678.3 1084.0" fill="none" stroke="#ff0000" stroke-width="6.3" stroke-linecap="round" stroke-linejoin="round"/>
<g id="saur_7b">
<path d="M284.3 187.2 V293.0" stroke="#ff0000" stroke-width="1.50" fill="none"/>
<path d="M274.4 187.2 H294.2" stroke="#ff0000" stroke-width="1.40" fill="none"/>
<path d="M274.4 293.0 H294.2" stroke="#ff0000" stroke-width="1.40" fill="none"/>
<path d="M427.8 209.6 V405.6" stroke="#ff0000" stroke-width="1.50" fill="none"/>
<path d="M417.9 209.6 H437.7" stroke="#ff0000" stroke-width="1.40" fill="none"/>
<path d="M417.9 405.6 H437.7" stroke="#ff0000" stroke-width="1.40" fill="none"/>
<path d="M566.7 87.2 V247.7" stroke="#ff0000" stroke-width="1.50" fill="none"/>
<path d="M556.8 87.2 H576.6" stroke="#ff0000" stroke-width="1.40" fill="none"/>
<path d="M556.8 247.7 H576.6" stroke="#ff0000" stroke-width="1.40" fill="none"/>
<path d="M704.9 126.7 V236.0" stroke="#ff0000" stroke-width="1.50" fill="none"/>
<path d="M695.0 126.7 H714.8" stroke="#ff0000" stroke-width="1.40" fill="none"/>
<path d="M695.0 236.0 H714.8" stroke="#ff0000" stroke-width="1.40" fill="none"/>
<path d="M844.1 157.2 V371.9" stroke="#ff0000" stroke-width="1.50" fill="none"/>
<path d="M834.2 157.2 H854.0" stroke="#ff0000" stroke-width="1.40" fill="none"/>
<path d="M834.2 371.9 H854.0" stroke="#ff0000" stroke-width="1.40" fill="none"/>
<path d="M983.0 119.1 V289.9" stroke="#ff0000" stroke-width="1.50" fill="none"/>
<path d="M973.1 119.1 H992.9" stroke="#ff0000" stroke-width="1.40" fill="none"/>
<path d="M973.1 289.9 H992.9" stroke="#ff0000" stroke-width="1.40" fill="none"/>
<path d="M1122.4 347.0 V630.4" stroke="#ff0000" stroke-width="1.50" fill="none"/>
<path d="M1112.5 347.0 H1132.3" stroke="#ff9a9a" stroke-width="1.40" fill="none"/>
<path d="M1112.5 630.4 H1132.3" stroke="#ff0000" stroke-width="1.40" fill="none"/>
<path d="M1261.2 898.2 V1047.6" stroke="#ff0000" stroke-width="1.50" fill="none"/>
<path d="M1251.3 898.2 H1271.1" stroke="#ff0000" stroke-width="1.40" fill="none"/>
<path d="M1251.3 1047.6 H1271.1" stroke="#ff0000" stroke-width="1.40" fill="none"/>
<circle cx="284.3" cy="240.2" r="18.25" fill="#ff0000" stroke="#000" stroke-width="3.0"/>
<circle cx="427.8" cy="307.5" r="18.25" fill="#ff0000" stroke="#000" stroke-width="3.0"/>
<circle cx="566.7" cy="167.2" r="18.25" fill="#ff0000" stroke="#000" stroke-width="3.0"/>
<circle cx="704.9" cy="181.3" r="18.25" fill="#ff0000" stroke="#000" stroke-width="3.0"/>
<circle cx="844.1" cy="264.6" r="18.25" fill="#ff0000" stroke="#000" stroke-width="3.0"/>
<circle cx="983.0" cy="204.4" r="18.25" fill="#ff0000" stroke="#000" stroke-width="3.0"/>
<circle cx="1122.4" cy="488.7" r="18.25" fill="#ff0000" stroke="#000" stroke-width="3.0"/>
<circle cx="1261.2" cy="972.8" r="18.25" fill="#ff0000" stroke="#000" stroke-width="3.0"/>
<circle cx="1400.0" cy="1060.0" r="18.25" fill="#ff0000" stroke="#000" stroke-width="3.0"/>
<circle cx="1539.3" cy="1080.4" r="18.25" fill="#ff0000" stroke="#000" stroke-width="3.0"/>
<circle cx="1678.3" cy="1108.6" r="18.25" fill="#ff0000" stroke="#000" stroke-width="3.0"/>
</g>
<g id="ticklabels">
<text transform="translate(152.30 136.20) scale(0.9430 1)" font-size="49.60" font-weight="bold" text-anchor="end">1.0</text>
<text transform="translate(152.30 631.20) scale(0.9430 1)" font-size="49.60" font-weight="bold" text-anchor="end">0.5</text>
<text transform="translate(152.30 1126.30) scale(0.9430 1)" font-size="49.60" font-weight="bold" text-anchor="end">0.0</text>
<text transform="translate(293.14 1191.30) scale(0.9300 1)" font-size="50.30" font-weight="bold" text-anchor="middle">0.25</text>
<text transform="translate(571.27 1191.30) scale(0.9300 1)" font-size="50.30" font-weight="bold" text-anchor="middle">1</text>
<text transform="translate(849.40 1191.30) scale(0.9300 1)" font-size="50.30" font-weight="bold" text-anchor="middle">4</text>
<text transform="translate(1127.53 1191.30) scale(0.9300 1)" font-size="50.30" font-weight="bold" text-anchor="middle">16</text>
<text transform="translate(1405.66 1191.30) scale(0.9300 1)" font-size="50.30" font-weight="bold" text-anchor="middle">64</text>
<text transform="translate(1683.79 1191.30) scale(0.9300 1)" font-size="50.30" font-weight="bold" text-anchor="middle">256</text>
</g>
<g id="serifmask" fill="#fff">
<rect x="559.50" y="1185.50" width="9.68" height="6.30"/>
<rect x="575.56" y="1185.50" width="8.94" height="6.30"/>
<rect x="1103.00" y="1185.50" width="9.43" height="6.30"/>
<rect x="1118.80" y="1185.50" width="8.70" height="6.30"/>
<rect x="89.00" y="130.50" width="9.18" height="6.30"/>
<rect x="104.56" y="130.50" width="8.44" height="6.30"/>
</g>
<text transform="translate(514.20 1267.40) scale(0.9300 1)" font-size="53.10" font-weight="bold" text-anchor="start">Bacteriocin concentration (microgram/ml)</text>
<text transform="translate(58.7 851.3) rotate(-90) scale(0.9323 1)" font-size="53.10" font-weight="bold">Normalized OD (600 nm)</text>
<g id="legend">
<path d="M690.8 1335.8 H755.7" stroke="#ff0000" stroke-width="6.4" stroke-linecap="round"/>
<circle cx="723.2" cy="1336.2" r="18.30" fill="#ff0000" stroke="#000" stroke-width="3.1"/>
<text transform="translate(794.6 1354.9) scale(0.9250 1)" font-size="52.90"><tspan font-style="italic">S. aureus</tspan> + cerein 7B</text>
<path d="M690.8 1421.2 H755.7" stroke="#ff00ff" stroke-width="6.4" stroke-linecap="round"/>
<circle cx="723.2" cy="1421.0" r="18.30" fill="#ff00ff" stroke="#000" stroke-width="3.1"/>
<text transform="translate(794.6 1439.7) scale(0.9250 1)" font-size="52.90"><tspan font-style="italic">S. aureus</tspan> + cerein B4080</text>
<circle cx="723.2" cy="1507.0" r="18.30" fill="#0080ff" stroke="#000" stroke-width="3.1"/>
<text transform="translate(794.6 1526.0) scale(0.9250 1)" font-size="52.90"><tspan font-style="italic">S. epidermidis</tspan> + cerein 7B</text>
<circle cx="723.2" cy="1596.5" r="18.30" fill="#008000" stroke="#000" stroke-width="3.1"/>
<text transform="translate(794.6 1615.1) scale(0.9250 1)" font-size="52.90"><tspan font-style="italic">S. epidermidis</tspan> + cerein B4080</text>
</g>
</svg></body></html>
